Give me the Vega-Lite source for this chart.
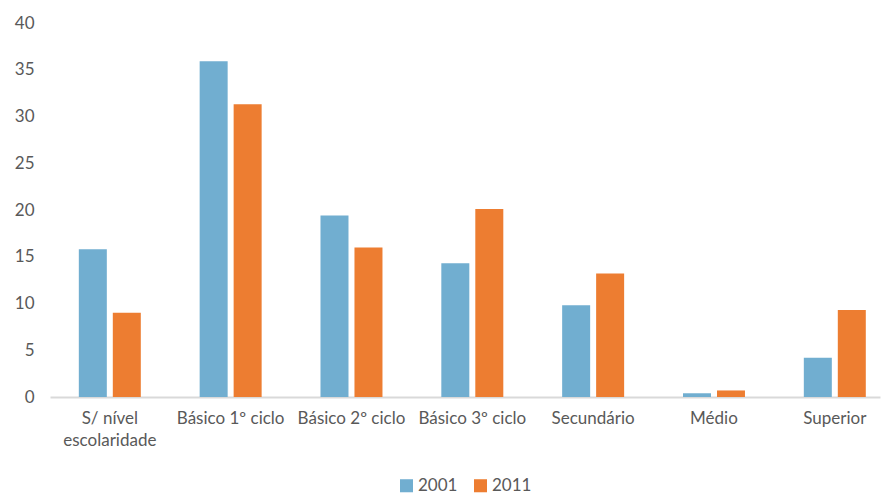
{
  "$schema": "https://vega.github.io/schema/vega-lite/v6.json",
  "autosize": {"type": "none"},
  "width": 830,
  "height": 374,
  "padding": {"left": 50, "top": 23, "right": 5, "bottom": 98},
  "background": "white",
  "config": {
    "view": {"stroke": null},
    "font": "Lato",
    "axis": {"labelFont": "Lato", "labelColor": "#595959", "labelFontSize": 17, "grid": false, "ticks": false, "title": null},
    "legend": {"labelFont": "Lato", "labelColor": "#595959", "labelFontSize": 17}
  },
  "data": {
    "values": [
      {"nivel": "S/ nível escolaridade", "ano": "2001", "valor": 15.8},
      {"nivel": "S/ nível escolaridade", "ano": "2011", "valor": 9.0},
      {"nivel": "Básico 1º ciclo", "ano": "2001", "valor": 35.9},
      {"nivel": "Básico 1º ciclo", "ano": "2011", "valor": 31.3},
      {"nivel": "Básico 2º ciclo", "ano": "2001", "valor": 19.4},
      {"nivel": "Básico 2º ciclo", "ano": "2011", "valor": 16.0},
      {"nivel": "Básico 3º ciclo", "ano": "2001", "valor": 14.3},
      {"nivel": "Básico 3º ciclo", "ano": "2011", "valor": 20.1},
      {"nivel": "Secundário", "ano": "2001", "valor": 9.8},
      {"nivel": "Secundário", "ano": "2011", "valor": 13.2},
      {"nivel": "Médio", "ano": "2001", "valor": 0.4},
      {"nivel": "Médio", "ano": "2011", "valor": 0.7},
      {"nivel": "Superior", "ano": "2001", "valor": 4.2},
      {"nivel": "Superior", "ano": "2011", "valor": 9.3}
    ]
  },
  "mark": {"type": "bar"},
  "encoding": {
    "x": {
      "field": "nivel",
      "type": "nominal",
      "sort": null,
      "scale": {"paddingInner": 0.487, "paddingOuter": 0.178, "align": 0.67},
      "axis": {
        "labelAngle": 0,
        "domain": true,
        "domainColor": "#D9D9D9",
        "domainWidth": 2,
        "labelPadding": 13,
        "labelLineHeight": 22,
        "labelExpr": "datum.label == 'S/ nível escolaridade' ? ['S/ nível', 'escolaridade'] : datum.label"
      }
    },
    "xOffset": {
      "field": "ano",
      "type": "nominal",
      "scale": {"paddingInner": 0.176, "paddingOuter": 0}
    },
    "y": {
      "field": "valor",
      "type": "quantitative",
      "scale": {"domain": [0, 40], "nice": false},
      "axis": {"values": [0, 5, 10, 15, 20, 25, 30, 35, 40], "domain": false, "labelPadding": 16}
    },
    "color": {
      "field": "ano",
      "type": "nominal",
      "scale": {"domain": ["2001", "2011"], "range": ["#71AED0", "#ED7D31"]},
      "legend": {
        "title": null,
        "orient": "none",
        "direction": "horizontal",
        "legendX": 348,
        "legendY": 454,
        "symbolType": "square",
        "symbolSize": 170,
        "symbolStrokeWidth": 0,
        "columnPadding": 14,
        "labelOffset": 3
      }
    }
  }
}
